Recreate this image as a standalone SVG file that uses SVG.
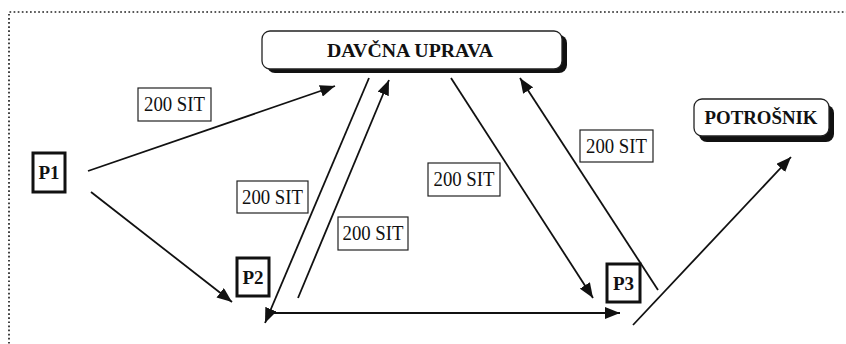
<svg xmlns="http://www.w3.org/2000/svg" width="846" height="344" viewBox="0 0 846 344">
  <style>
    .frame { fill: none; stroke: #222; stroke-width: 1.7; stroke-dasharray: 1.7 2.4; }
    .shadow { fill: #111; }
    .rbox { fill: #fff; stroke: #222; stroke-width: 1.3; }
    .pbox { fill: #fff; stroke: #111; stroke-width: 3; }
    .lbox { fill: #fff; stroke: #222; stroke-width: 1.2; }
    .title { font-family: "Liberation Serif", "Times New Roman", serif; font-weight: bold; fill: #111; text-anchor: middle; }
    .amount { font-family: "Liberation Serif", "Times New Roman", serif; font-size: 20px; fill: #111; text-anchor: middle; }
    .link { fill: none; stroke: #111; stroke-width: 1.8; marker-end: url(#arrow); }
  </style>
  <defs>
    <marker id="arrow" markerUnits="userSpaceOnUse" markerWidth="16" markerHeight="12" refX="15" refY="6" orient="auto">
      <path d="M0,0 L15,6 L0,12 Z" fill="#111"/>
    </marker>
  </defs>

  <rect width="846" height="344" fill="#fff"/>
  <!-- dotted outer frame, running off the right and bottom edges -->
  <path class="frame" d="M9,360 L9,12 L860,12"/>

  <g id="davcna-uprava">
    <rect class="shadow" x="267" y="35" width="300" height="38" rx="8"/>
    <rect class="rbox" x="262" y="31" width="300" height="38" rx="8"/>
    <text class="title" x="410" y="57" font-size="19" textLength="166" lengthAdjust="spacingAndGlyphs">DAVČNA UPRAVA</text>
  </g>

  <g id="potrosnik">
    <rect class="shadow" x="699" y="105" width="135" height="37" rx="8"/>
    <rect class="rbox" x="694" y="99" width="135" height="37" rx="8"/>
    <text class="title" x="761" y="124" font-size="19" textLength="113" lengthAdjust="spacingAndGlyphs">POTROŠNIK</text>
  </g>

  <g id="p1">
    <rect class="pbox" x="33" y="153" width="32" height="39"/>
    <text class="title" x="49" y="179" font-size="19">P1</text>
  </g>

  <g id="p2">
    <rect class="pbox" x="237" y="258" width="32" height="38"/>
    <text class="title" x="253" y="284" font-size="19">P2</text>
  </g>

  <g id="p3">
    <rect class="pbox" x="607" y="264" width="33" height="38"/>
    <text class="title" x="623.5" y="290" font-size="19">P3</text>
  </g>

  <g id="connectors">
    <line class="link" x1="88" y1="171" x2="335" y2="86"/>
    <line class="link" x1="91" y1="192" x2="232" y2="302"/>
    <line class="link" x1="369" y1="78" x2="265" y2="323"/>
    <line class="link" x1="298" y1="298" x2="389" y2="80"/>
    <line class="link" x1="271" y1="313" x2="620" y2="313"/>
    <line class="link" x1="451" y1="78" x2="593" y2="298"/>
    <line class="link" x1="658" y1="290" x2="520" y2="78"/>
    <line class="link" x1="633" y1="325" x2="791" y2="157"/>
  </g>

  <g id="amounts">
    <rect class="lbox" x="138" y="88" width="73" height="33"/>
    <text class="amount" x="174.5" y="111" textLength="61" lengthAdjust="spacingAndGlyphs">200 SIT</text>
    <rect class="lbox" x="237" y="181" width="71" height="32"/>
    <text class="amount" x="272.5" y="204" textLength="61" lengthAdjust="spacingAndGlyphs">200 SIT</text>
    <rect class="lbox" x="338" y="217" width="70" height="33"/>
    <text class="amount" x="373" y="240" textLength="61" lengthAdjust="spacingAndGlyphs">200 SIT</text>
    <rect class="lbox" x="428" y="163" width="72" height="33"/>
    <text class="amount" x="464" y="186" textLength="61" lengthAdjust="spacingAndGlyphs">200 SIT</text>
    <rect class="lbox" x="580" y="130" width="73" height="32"/>
    <text class="amount" x="616.5" y="153" textLength="61" lengthAdjust="spacingAndGlyphs">200 SIT</text>
  </g>
</svg>
